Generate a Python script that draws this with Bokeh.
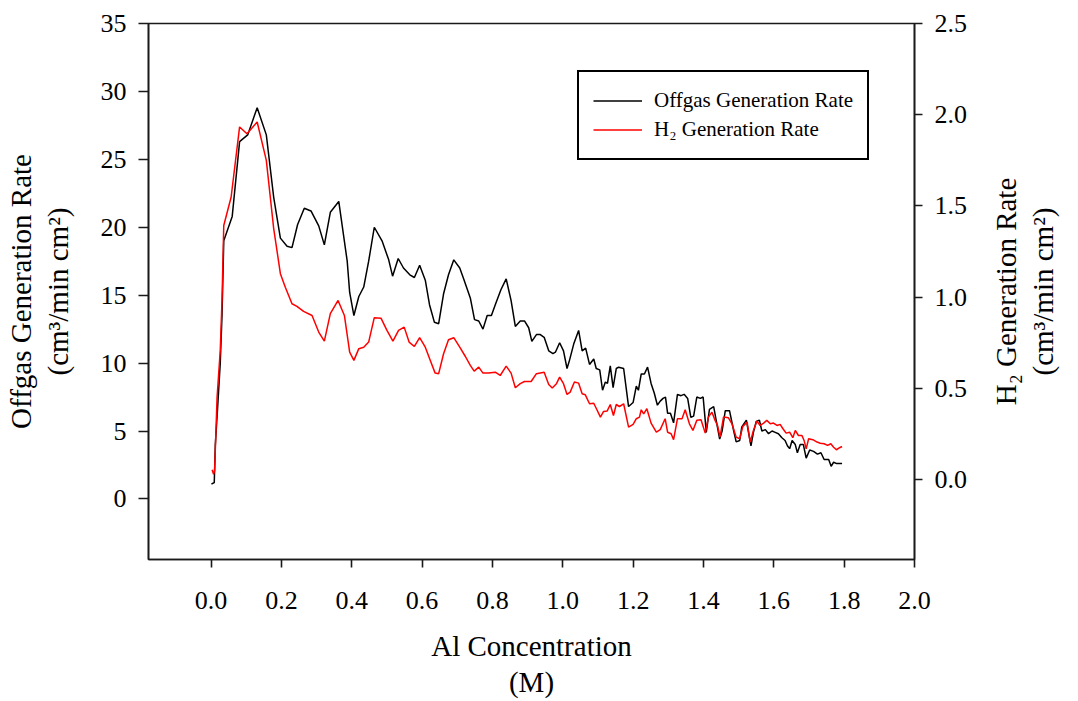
import math
from bokeh.plotting import figure
from bokeh.layouts import row
from bokeh.models import (Range1d, LinearAxis, FixedTicker, PrintfTickFormatter,
                          Legend, LegendItem)
from bokeh.embed import file_html
from bokeh.resources import INLINE

# ---------------- data ----------------
offgas_x = [0.001, 0.009, 0.012, 0.018, 0.026, 0.031, 0.036, 0.060, 0.081, 0.104,
            0.131, 0.157, 0.178, 0.197, 0.216, 0.230, 0.246, 0.265, 0.284, 0.306,
            0.322, 0.339, 0.363, 0.387, 0.394, 0.406, 0.420, 0.434, 0.448, 0.464,
            0.486, 0.505, 0.516, 0.532, 0.547, 0.565, 0.578, 0.593, 0.609, 0.621,
            0.635, 0.647, 0.661, 0.675, 0.690, 0.707, 0.718, 0.737, 0.749, 0.761,
            0.773, 0.785, 0.797, 0.808, 0.824, 0.839, 0.853, 0.865, 0.879, 0.891,
            0.903, 0.912, 0.925, 0.936, 0.947, 0.960, 0.972, 0.979, 0.991, 1.002,
            1.012, 1.019, 1.031, 1.045, 1.055, 1.065, 1.076, 1.088, 1.095, 1.105,
            1.113, 1.121, 1.127, 1.135, 1.143, 1.152, 1.159, 1.173, 1.187, 1.200,
            1.209, 1.215, 1.223, 1.232, 1.241, 1.251, 1.260, 1.269, 1.277, 1.285,
            1.292, 1.298, 1.306, 1.315, 1.326, 1.336, 1.345, 1.355, 1.364, 1.372,
            1.381, 1.391, 1.399, 1.408, 1.417, 1.429, 1.436, 1.446, 1.453, 1.462,
            1.474, 1.486, 1.493, 1.503, 1.509, 1.522, 1.528, 1.535, 1.542, 1.550,
            1.559, 1.566, 1.576, 1.585, 1.595, 1.604, 1.613, 1.623, 1.632, 1.639,
            1.645, 1.652, 1.661, 1.667, 1.675, 1.684, 1.692, 1.702, 1.713, 1.724,
            1.734, 1.743, 1.756, 1.763, 1.770, 1.779, 1.794]
offgas_rate = [1.1, 1.2, 4.0, 6.5, 10.0, 13.5, 19.0, 20.8, 26.3, 26.8,
               28.8, 26.8, 22.2, 19.2, 18.6, 18.5, 20.2, 21.4, 21.2, 20.1,
               18.7, 21.1, 21.9, 17.5, 15.2, 13.5, 14.9, 15.6, 17.5, 20.0,
               19.0, 17.6, 16.4, 17.7, 17.0, 16.5, 16.3, 17.2, 16.1, 14.3,
               13.0, 12.9, 15.1, 16.5, 17.6, 17.0, 16.2, 14.8, 13.2, 13.1,
               12.5, 13.5, 13.5, 14.3, 15.4, 16.2, 14.6, 12.7, 13.1, 13.1,
               12.6, 11.6, 12.1, 12.1, 11.9, 10.9, 10.7, 10.8, 11.5, 10.9,
               9.6, 10.2, 11.4, 12.4, 10.9, 11.1, 9.9, 10.3, 9.6, 9.5,
               8.0, 8.6, 8.5, 9.8, 8.2, 9.6, 9.7, 9.6, 6.8, 7.1,
               8.3, 8.0, 9.2, 9.2, 9.7, 8.5, 7.8, 6.9, 7.2, 7.4,
               7.5, 6.3, 6.3, 5.6, 7.7, 7.6, 7.7, 7.4, 6.0, 6.1,
               7.5, 7.4, 7.5, 4.9, 6.6, 6.8, 5.8, 4.4, 5.0, 6.5,
               6.5, 5.0, 4.2, 4.3, 5.3, 5.8, 4.9, 3.9, 4.9, 5.7,
               5.8, 5.0, 5.1, 4.8, 5.0, 4.9, 4.8, 4.5, 4.3, 3.9,
               3.7, 4.3, 4.0, 3.4, 4.0, 4.0, 3.0, 3.6, 3.5, 3.3,
               3.4, 2.9, 2.9, 2.4, 2.7, 2.6, 2.6]

h2_x = [0.003, 0.007, 0.010, 0.017, 0.026, 0.031, 0.036, 0.057, 0.081, 0.102,
        0.131, 0.157, 0.178, 0.197, 0.211, 0.230, 0.244, 0.263, 0.287, 0.306,
        0.322, 0.339, 0.361, 0.379, 0.394, 0.406, 0.420, 0.434, 0.448, 0.464,
        0.483, 0.500, 0.517, 0.533, 0.549, 0.563, 0.578, 0.593, 0.609, 0.623,
        0.637, 0.647, 0.661, 0.675, 0.690, 0.707, 0.723, 0.737, 0.748, 0.761,
        0.773, 0.789, 0.808, 0.822, 0.839, 0.853, 0.865, 0.879, 0.891, 0.910,
        0.925, 0.947, 0.960, 0.970, 0.982, 0.991, 1.002, 1.012, 1.021, 1.033,
        1.045, 1.055, 1.064, 1.076, 1.088, 1.097, 1.107, 1.116, 1.126, 1.135,
        1.144, 1.152, 1.161, 1.173, 1.187, 1.200, 1.209, 1.218, 1.223, 1.230,
        1.239, 1.251, 1.266, 1.277, 1.291, 1.298, 1.308, 1.315, 1.326, 1.339,
        1.348, 1.360, 1.370, 1.381, 1.393, 1.405, 1.414, 1.424, 1.433, 1.440,
        1.447, 1.457, 1.471, 1.481, 1.493, 1.503, 1.512, 1.524, 1.533, 1.542,
        1.552, 1.561, 1.571, 1.580, 1.590, 1.599, 1.609, 1.618, 1.626, 1.635,
        1.645, 1.654, 1.661, 1.670, 1.680, 1.686, 1.692, 1.699, 1.711, 1.723,
        1.732, 1.743, 1.753, 1.762, 1.770, 1.778, 1.787, 1.794]
h2_rate = [0.054, 0.029, 0.050, 0.452, 0.708, 0.982, 1.393, 1.549, 1.933, 1.896,
           1.960, 1.750, 1.376, 1.129, 1.055, 0.964, 0.950, 0.922, 0.900, 0.809,
           0.759, 0.910, 0.982, 0.900, 0.699, 0.654, 0.718, 0.726, 0.754, 0.888,
           0.885, 0.818, 0.759, 0.818, 0.836, 0.754, 0.730, 0.778, 0.726, 0.654,
           0.584, 0.581, 0.690, 0.767, 0.778, 0.726, 0.675, 0.626, 0.595, 0.617,
           0.584, 0.584, 0.589, 0.571, 0.622, 0.584, 0.504, 0.526, 0.538, 0.538,
           0.581, 0.589, 0.522, 0.502, 0.526, 0.562, 0.526, 0.467, 0.480, 0.535,
           0.529, 0.471, 0.465, 0.416, 0.419, 0.383, 0.343, 0.374, 0.376, 0.412,
           0.352, 0.412, 0.401, 0.416, 0.288, 0.303, 0.334, 0.343, 0.383, 0.361,
           0.389, 0.310, 0.260, 0.274, 0.334, 0.260, 0.252, 0.219, 0.334, 0.334,
           0.383, 0.306, 0.270, 0.325, 0.328, 0.255, 0.343, 0.370, 0.325, 0.297,
           0.233, 0.343, 0.339, 0.306, 0.233, 0.224, 0.292, 0.315, 0.206, 0.270,
           0.321, 0.297, 0.310, 0.325, 0.306, 0.310, 0.297, 0.303, 0.279, 0.255,
           0.260, 0.230, 0.270, 0.242, 0.242, 0.215, 0.169, 0.224, 0.219, 0.206,
           0.200, 0.197, 0.188, 0.197, 0.178, 0.164, 0.175, 0.182]

x_ticks = [0.0, 0.2, 0.4, 0.6, 0.8, 1.0, 1.2, 1.4, 1.6, 1.8, 2.0]
left_ticks = [0, 5, 10, 15, 20, 25, 30, 35]
right_ticks = [0.0, 0.5, 1.0, 1.5, 2.0, 2.5]

series_labels = ["Offgas Generation Rate", "H\u2082 Generation Rate"]
x_title = "Al Concentration\n(M)"
left_title = "Offgas Generation Rate\n(cm\u00b3/min cm\u00b2)"
right_title = "H\u2082 Generation Rate\n(cm\u00b3/min cm\u00b2)"

FONT = "Liberation Serif"
AX = "#1a1a1a"
H = 701

p = figure(width=980, height=H,
           x_range=Range1d(-0.178, 2.0), y_range=Range1d(-4.46, 35.0),
           output_backend="svg", toolbar_location=None, title=None,
           min_border_left=148, min_border_right=66,
           min_border_top=23, min_border_bottom=142)
p.extra_y_ranges = {"h2": Range1d(-0.4375, 2.5)}
p.xgrid.visible = False
p.ygrid.visible = False
p.outline_line_color = AX
p.outline_line_width = 1.6
p.background_fill_color = "white"
p.border_fill_color = "white"

right_axis = LinearAxis(y_range_name="h2")
p.add_layout(right_axis, "right")


def style(ax, ticks, fmt, tick_out, standoff, title, title_standoff):
    ax.ticker = FixedTicker(ticks=ticks)
    if fmt is not None:
        ax.formatter = PrintfTickFormatter(format=fmt)
    ax.axis_line_color = AX
    ax.axis_line_width = 1.6
    ax.major_tick_line_color = AX
    ax.major_tick_line_width = 1.6
    ax.major_tick_in = 0
    ax.major_tick_out = tick_out
    ax.minor_tick_line_color = None
    ax.major_label_text_font = FONT
    ax.major_label_text_font_size = "26px"
    ax.major_label_text_color = "black"
    ax.major_label_standoff = standoff
    ax.axis_label = title
    ax.axis_label_text_font = FONT
    ax.axis_label_text_font_size = "29px"
    ax.axis_label_text_font_style = "normal"
    ax.axis_label_text_color = "black"
    ax.axis_label_text_line_height = 1.15
    ax.axis_label_standoff = title_standoff


style(p.xaxis[0], x_ticks, "%.1f", 8, 24, x_title, 18)
style(p.yaxis[0], left_ticks, "%d", 10, 12, left_title, 24)
style(right_axis, right_ticks, "%.1f", 8, 12, None, 0)

r_off = p.line(offgas_x, offgas_rate, line_color="black", line_width=1.5)
r_h2 = p.line(h2_x, h2_rate, line_color="#ff0000", line_width=1.5, y_range_name="h2")

legend = Legend(items=[LegendItem(label=series_labels[0], renderers=[r_off]),
                       LegendItem(label=series_labels[1], renderers=[r_h2])],
                location=(429, 399), orientation="vertical",
                label_text_font=FONT, label_text_font_size="21px",
                label_text_color="black", label_standoff=12,
                glyph_width=49, glyph_height=29, label_height=29,
                padding=14, spacing=0, margin=0,
                border_line_color="black", border_line_width=2,
                border_line_alpha=1.0,
                background_fill_color="white", background_fill_alpha=1.0)
p.add_layout(legend)

# narrow companion panel that carries the right-hand title, reading bottom-to-top
q = figure(width=96, height=H, x_range=Range1d(0, 1), y_range=Range1d(-0.4375, 2.5),
           output_backend="svg", toolbar_location=None, title=None,
           min_border_left=78, min_border_right=0,
           min_border_top=23, min_border_bottom=142)
q.xaxis.visible = False
q.xgrid.visible = False
q.ygrid.visible = False
q.outline_line_color = None
q.background_fill_color = "white"
q.border_fill_color = "white"
qa = q.yaxis[0]
qa.ticker = FixedTicker(ticks=[])
qa.axis_line_color = None
qa.major_tick_line_color = None
qa.minor_tick_line_color = None
qa.major_tick_out = 0
qa.major_tick_in = 0
qa.major_label_text_color = None
qa.major_label_standoff = 0
qa.axis_label = right_title
qa.axis_label_text_font = FONT
qa.axis_label_text_font_size = "29px"
qa.axis_label_text_font_style = "normal"
qa.axis_label_text_color = "black"
qa.axis_label_text_line_height = 1.15
qa.axis_label_standoff = 0

layout = row(p, q, spacing=0)

open("out.html", "w").write(file_html(layout, INLINE))
